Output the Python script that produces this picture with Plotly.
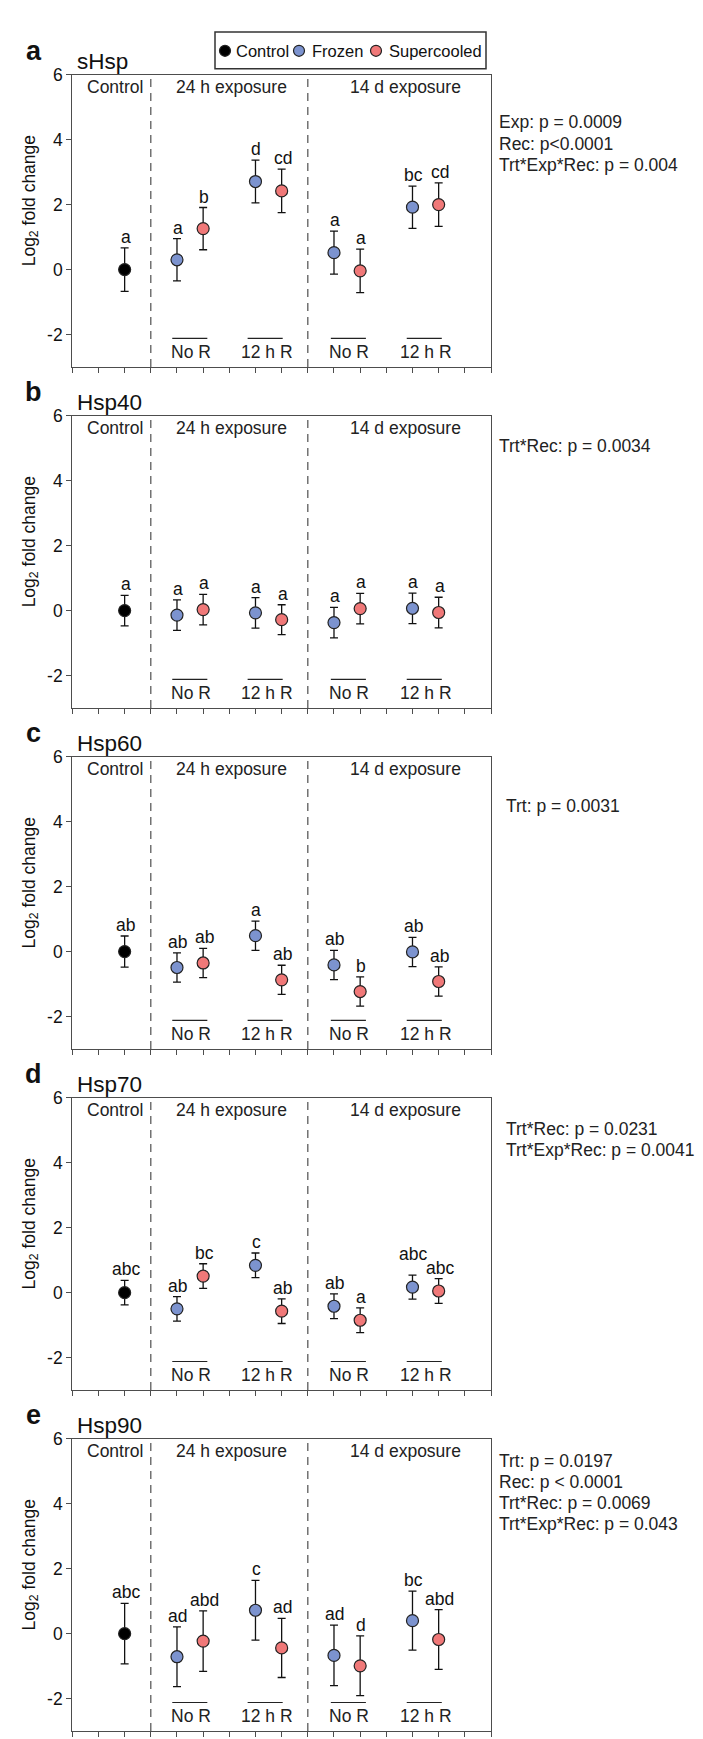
import plotly.graph_objects as go

W, H = 703, 1739
FONT = "Liberation Sans, Arial, sans-serif"

# ---------------- DATA ----------------
genes = ["sHsp", "Hsp40", "Hsp60", "Hsp70", "Hsp90"]
panel_letters = ["a", "b", "c", "d", "e"]

# group order: Control | 24h NoR (Frozen, Supercooled) | 24h 12hR (F, S) | 14d NoR (F, S) | 14d 12hR (F, S)
groups = ["Control",
          "Frozen 24 h No R", "Supercooled 24 h No R",
          "Frozen 24 h 12 h R", "Supercooled 24 h 12 h R",
          "Frozen 14 d No R", "Supercooled 14 d No R",
          "Frozen 14 d 12 h R", "Supercooled 14 d 12 h R"]
treatment = ["Control", "Frozen", "Supercooled", "Frozen", "Supercooled",
             "Frozen", "Supercooled", "Frozen", "Supercooled"]

shsp_mean = [0.00, 0.30, 1.26, 2.71, 2.42, 0.52, -0.04, 1.92, 2.00]
shsp_err = [0.67, 0.65, 0.65, 0.66, 0.67, 0.66, 0.67, 0.65, 0.67]
shsp_letters = ["a", "a", "b", "d", "cd", "a", "a", "bc", "cd"]

hsp40_mean = [0.00, -0.14, 0.03, -0.07, -0.28, -0.37, 0.06, 0.07, -0.06]
hsp40_err = [0.47, 0.47, 0.47, 0.47, 0.46, 0.47, 0.47, 0.47, 0.47]
hsp40_letters = ["a", "a", "a", "a", "a", "a", "a", "a", "a"]

hsp60_mean = [0.00, -0.49, -0.35, 0.49, -0.87, -0.41, -1.23, -0.01, -0.92]
hsp60_err = [0.48, 0.45, 0.45, 0.45, 0.45, 0.45, 0.45, 0.45, 0.45]
hsp60_letters = ["ab", "ab", "ab", "a", "ab", "ab", "b", "ab", "ab"]

hsp70_mean = [0.00, -0.50, 0.51, 0.84, -0.57, -0.42, -0.85, 0.17, 0.05]
hsp70_err = [0.38, 0.38, 0.38, 0.38, 0.38, 0.38, 0.38, 0.37, 0.38]
hsp70_letters = ["abc", "ab", "bc", "c", "ab", "ab", "a", "abc", "abc"]

hsp90_mean = [0.00, -0.71, -0.23, 0.72, -0.44, -0.67, -0.99, 0.40, -0.18]
hsp90_err = [0.93, 0.92, 0.93, 0.92, 0.91, 0.93, 0.92, 0.91, 0.92]
hsp90_letters = ["abc", "ad", "abd", "c", "ad", "ad", "d", "bc", "abd"]

region_labels = ["Control", "24 h exposure", "14 d exposure"]
recovery_labels = ["No R", "12 h R", "No R", "12 h R"]
series_names = ["Control", "Frozen", "Supercooled"]

stats_a = ["Exp: p = 0.0009", "Rec: p<0.0001", "Trt*Exp*Rec: p = 0.004"]
stats_b = ["Trt*Rec: p = 0.0034"]
stats_c = ["Trt: p = 0.0031"]
stats_d = ["Trt*Rec: p = 0.0231", "Trt*Exp*Rec: p = 0.0041"]
stats_e = ["Trt: p = 0.0197", "Rec: p < 0.0001", "Trt*Rec: p = 0.0069", "Trt*Exp*Rec: p = 0.043"]

y_ticks = [-2, 0, 2, 4, 6]
y_ticktext = ["-2", "0", "2", "4", "6"]

# ---------------- LAYOUT / STYLE ----------------
means = [shsp_mean, hsp40_mean, hsp60_mean, hsp70_mean, hsp90_mean]
errs = [shsp_err, hsp40_err, hsp60_err, hsp70_err, hsp90_err]
letters = [shsp_letters, hsp40_letters, hsp60_letters, hsp70_letters, hsp90_letters]
stats = [stats_a, stats_b, stats_c, stats_d, stats_e]

x_pos = [2, 4, 5, 7, 8, 10, 11, 13, 14]
colors = {"Control": "#000000", "Frozen": "#7C93CF", "Supercooled": "#F07878"}
AX = "#4d4d4d"

panel_top = [57 + 343 * i for i in range(5)]
PH = 294
X0, X1 = 64.3, 483.0
YMIN, YMAX = -3, 6
ppu = PH / (YMAX - YMIN)

stats_pos = [(489, 48), (489, 30), (496, 50), (496, 31), (489, 22)]
line_step = 21.3
letter_extra = {(3, 7): 10}   # extra lift (px) to avoid overlapping letters

region_x = [1.62, 6.07, 12.73]
rec_line_c = [4.49, 7.37, 10.55, 13.45]
rec_text_c = [4.53, 7.44, 10.59, 13.5]


def px(x):
    return x / W


def py(y):
    return 1 - y / H


fig = go.Figure()
shapes = []
annotations = []

for i in range(5):
    T = panel_top[i]
    sfx = "" if i == 0 else str(i + 1)
    xa, ya = "x" + sfx, "y" + sfx
    fig.layout["xaxis" + sfx] = dict(
        domain=[px(X0), px(X1)], range=[0, 16], anchor=ya,
        tickvals=list(range(0, 17)), ticks="outside", ticklen=5, tickwidth=1,
        tickcolor=AX, showticklabels=False, showline=True, linecolor=AX,
        linewidth=1.3, mirror=True, showgrid=False, zeroline=False)
    fig.layout["yaxis" + sfx] = dict(
        domain=[py(T + PH), py(T)], range=[YMIN, YMAX], anchor=xa,
        tickvals=y_ticks, ticktext=y_ticktext, ticks="outside", ticklen=5,
        tickwidth=1, tickcolor=AX, showline=True, linecolor=AX, linewidth=1.3,
        mirror=True, showgrid=False, zeroline=False,
        tickfont=dict(family=FONT, size=17.5, color="#111"))

    m, e, L = means[i], errs[i], letters[i]
    for s in series_names:
        idx = [k for k in range(9) if treatment[k] == s]
        fig.add_trace(go.Scatter(
            x=[x_pos[k] for k in idx], y=[m[k] for k in idx],
            mode="markers", name=s, showlegend=False, xaxis=xa, yaxis=ya,
            error_y=dict(type="data", array=[e[k] for k in idx],
                         color="#111", thickness=1.3, width=4),
            marker=dict(size=12, color=colors[s],
                        line=dict(width=1.2, color="#222"))))

    # significance letters
    for k in range(9):
        annotations.append(dict(
            x=x_pos[k], y=m[k] + e[k], xref=xa, yref=ya, text=L[k],
            showarrow=False, yanchor="bottom", xanchor="center",
            yshift=-1 + letter_extra.get((i, k), 0),
            xshift=1, font=dict(family=FONT, size=17.5, color="#111")))

    # dashed separators
    for xv in (3, 9):
        shapes.append(dict(type="line", xref=xa, yref=ya, x0=xv, x1=xv,
                           y0=YMIN, y1=YMAX,
                           line=dict(color=AX, width=1.2, dash="8px,6px")))

    # region labels
    for lab, xv in zip(region_labels, region_x):
        annotations.append(dict(
            x=xv, y=YMAX - 12 / ppu, xref=xa, yref=ya, text=lab,
            showarrow=False, xanchor="center", yanchor="middle",
            font=dict(family=FONT, size=17.5, color="#222")))

    # recovery underline + labels
    for lab, lc, tc in zip(recovery_labels, rec_line_c, rec_text_c):
        shapes.append(dict(type="line", xref=xa, yref=ya, x0=lc - 0.67,
                           x1=lc + 0.67, y0=-2.12, y1=-2.12,
                           line=dict(color="#222", width=1.2)))
        annotations.append(dict(
            x=tc, y=-2.53, xref=xa, yref=ya, text=lab, showarrow=False,
            xanchor="center", yanchor="middle",
            font=dict(family=FONT, size=17.5, color="#222")))

    # panel letter and gene title
    annotations.append(dict(
        x=px(25.5), y=py(T - 24), xref="paper", yref="paper",
        text="<b>" + panel_letters[i] + "</b>", showarrow=False,
        xanchor="center", yanchor="middle",
        font=dict(family=FONT, size=27, color="#111")))
    annotations.append(dict(
        x=px(67), y=py(T - 13), xref="paper", yref="paper",
        text=genes[i], showarrow=False, xanchor="left", yanchor="middle",
        font=dict(family=FONT, size=22.5, color="#111")))

    # y-axis title
    annotations.append(dict(
        x=px(22), y=py(T + (YMAX - 2.1) * ppu), xref="paper", yref="paper",
        text="Log<sub>2</sub> fold change", showarrow=False, textangle=-90,
        xanchor="center", yanchor="middle",
        font=dict(family=FONT, size=17.5, color="#111")))

    # stats text
    sx, sy = stats_pos[i]
    for j, line in enumerate(stats[i]):
        annotations.append(dict(
            x=px(sx), y=py(T + sy + j * line_step), xref="paper", yref="paper",
            text=line, showarrow=False, xanchor="left", yanchor="middle",
            font=dict(family=FONT, size=17.5, color="#222")))

# legend (drawn manually)
shapes.append(dict(type="rect", xref="paper", yref="paper", x0=px(207),
                   x1=px(478), y0=py(51), y1=py(14),
                   line=dict(color="#333", width=1.5)))
leg_marker_x = [217, 291, 368]
leg_text_x = [225.7, 301.7, 379.3]
for s, mx, tx in zip(series_names, leg_marker_x, leg_text_x):
    r = 5.5
    shapes.append(dict(type="circle", xref="paper", yref="paper",
                       x0=px(mx - r), x1=px(mx + r), y0=py(33 + r), y1=py(33 - r),
                       fillcolor=colors[s], line=dict(color="#222", width=1.2)))
    annotations.append(dict(
        x=px(tx), y=py(33), xref="paper", yref="paper", text=s,
        showarrow=False, xanchor="left", yanchor="middle",
        font=dict(family=FONT, size=16.5, color="#111")))

fig.update_layout(
    width=W, height=H, margin=dict(l=0, r=0, t=0, b=0),
    paper_bgcolor="white", plot_bgcolor="white",
    shapes=shapes, annotations=annotations, showlegend=False,
    font=dict(family=FONT, color="#111"))

fig.write_html("out.html")
